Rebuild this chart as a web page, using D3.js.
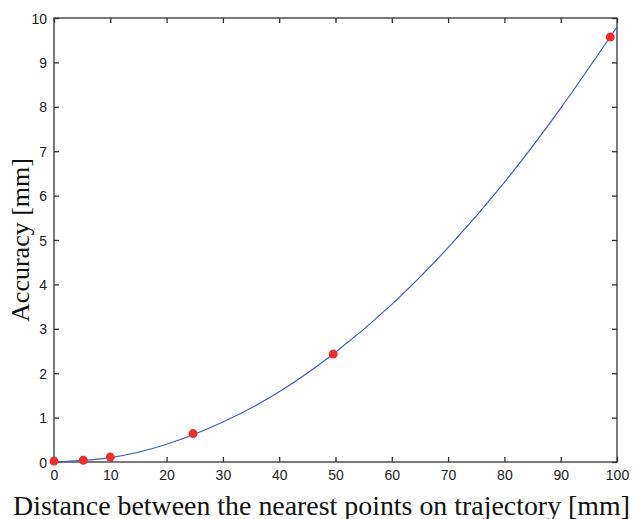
<!DOCTYPE html>
<meta charset="utf-8">
<style>
    body { margin: 0; background: #fff; }
    svg { display: block; }
    .tick text { font-family: "Liberation Sans", Arial, sans-serif; font-size: 14px; fill: #222; }
    .title { font-family: "Liberation Serif", "Times New Roman", serif; fill: #111; }
</style>
<body>
<div id="chart"></div>
<script src="https://cdnjs.cloudflare.com/ajax/libs/d3/7.8.5/d3.min.js"></script>
<script>
    // measured points (red dots)
    var distances = [0, 5.2, 10, 24.7, 49.6, 98.8];
    var accuracy = [0.02, 0.04, 0.11, 0.64, 2.43, 9.57];

    // fitted curve, every 10 mm
    var curveX = [0, 10, 20, 30, 40, 50, 60, 70, 80, 90, 100];
    var curveY = [0, 0.1, 0.4, 0.9, 1.58, 2.47, 3.55, 4.83, 6.3, 7.97, 9.8];

    var xTicks = [0, 10, 20, 30, 40, 50, 60, 70, 80, 90, 100];
    var yTicks = [0, 1, 2, 3, 4, 5, 6, 7, 8, 9, 10];

    var width = 633, height = 519;
    var mLeft = 54, mRight = 617, mTop = 18, mBottom = 462;

    var svg = d3.select("#chart").append("svg")
        .attr("width", width)
        .attr("height", height);

    var x = d3.scaleLinear().domain([0, 100]).range([mLeft, mRight]);
    var y = d3.scaleLinear().domain([0, 10]).range([mBottom, mTop]);

    // plot box
    svg.append("rect")
        .attr("x", mLeft).attr("y", mTop)
        .attr("width", mRight - mLeft).attr("height", mBottom - mTop)
        .attr("fill", "none").attr("stroke", "#333").attr("stroke-width", 1.3);

    // axes with inward ticks
    var gx = svg.append("g").attr("transform", "translate(0," + mBottom + ")")
        .call(d3.axisBottom(x).tickValues(xTicks).tickSize(-5).tickPadding(8));
    var gy = svg.append("g").attr("transform", "translate(" + mLeft + ",0)")
        .call(d3.axisLeft(y).tickValues(yTicks).tickSize(-5).tickPadding(7));
    // mirrored ticks on top and right
    var gt = svg.append("g").attr("transform", "translate(0," + mTop + ")")
        .call(d3.axisTop(x).tickValues(xTicks).tickSize(-5).tickFormat(""));
    var gr = svg.append("g").attr("transform", "translate(" + mRight + ",0)")
        .call(d3.axisRight(y).tickValues(yTicks).tickSize(-5).tickFormat(""));

    [gx, gy, gt, gr].forEach(function(g) {
        g.select(".domain").remove();
        g.selectAll(".tick line").attr("stroke", "#333").attr("stroke-width", 1.3);
    });
    gx.selectAll(".tick text").attr("dy", "0.71em");
    gy.selectAll(".tick text").attr("dy", "0.36em");

    // fitted line
    var line = d3.line()
        .x(function(d, i) { return x(curveX[i]); })
        .y(function(d) { return y(d); })
        .curve(d3.curveNatural);
    svg.append("path")
        .datum(curveY)
        .attr("d", line)
        .attr("fill", "none")
        .attr("stroke", "#3d5fb4")
        .attr("stroke-width", 1.2);

    // data points
    svg.selectAll(".dot")
        .data(distances)
        .enter().append("circle")
        .attr("class", "dot")
        .attr("cx", function(d) { return x(d); })
        .attr("cy", function(d, i) { return y(accuracy[i]); })
        .attr("r", 4.5)
        .attr("fill", "#ee2f2f");

    // axis titles
    svg.append("text")
        .attr("class", "title")
        .attr("x", 13)
        .attr("y", 515)
        .attr("font-size", 27)
        .attr("textLength", 617)
        .attr("lengthAdjust", "spacingAndGlyphs")
        .text("Distance between the nearest points on trajectory [mm]");

    svg.append("text")
        .attr("class", "title")
        .attr("transform", "translate(29,240) rotate(-90)")
        .attr("text-anchor", "middle")
        .attr("font-size", 26)
        .text("Accuracy [mm]");
</script>
</body>
